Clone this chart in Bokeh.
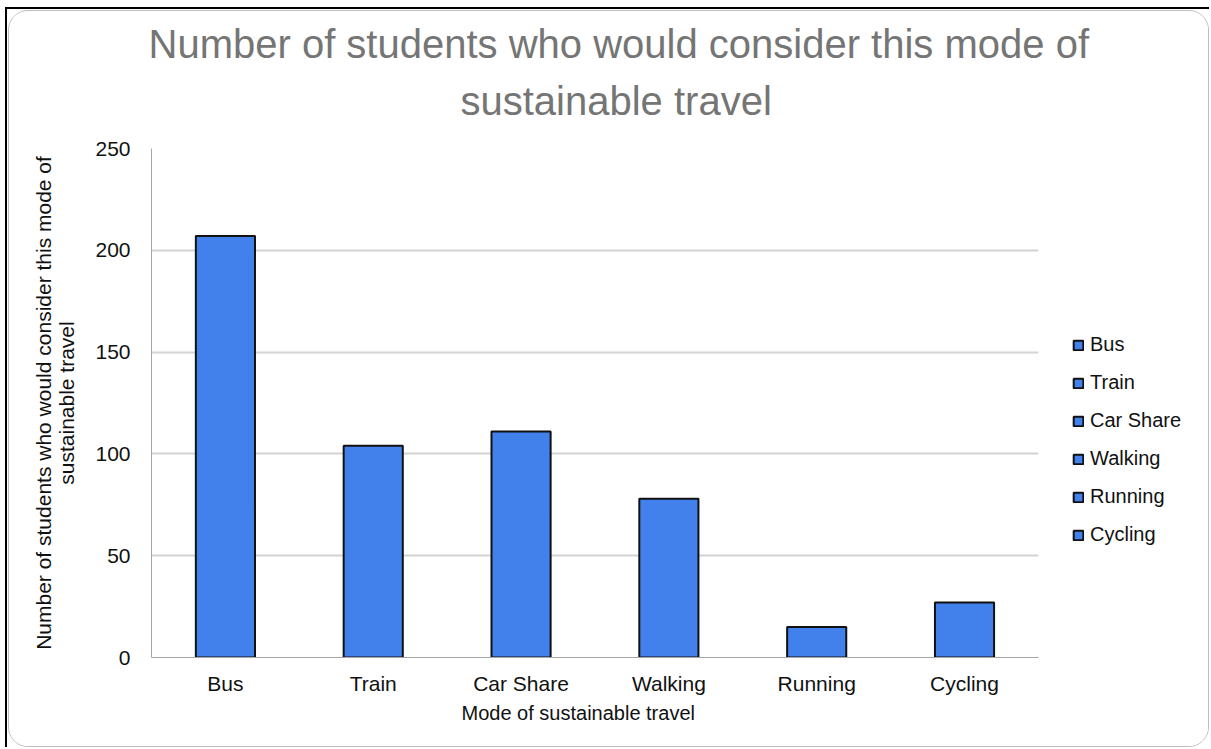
from bokeh.plotting import figure
from bokeh.models import ColumnDataSource, Range1d, Title, FixedTicker, BoxAnnotation
from bokeh.layouts import column
from bokeh.embed import file_html
from bokeh.resources import INLINE

# Survey results: students who would consider each travel mode
modes = ["Bus", "Train", "Car Share", "Walking", "Running", "Cycling"]
counts = [207, 104, 111, 78, 15, 27]
y_ticks = [0, 50, 100, 150, 200, 250]
title_lines = ["Number of students who would consider this mode of", "sustainable travel"]
x_title = "Mode of sustainable travel"
y_title = "Number of students who would consider this mode of\nsustainable travel"

FONT = "Liberation Sans"
BAR_COLOR = "#4281EC"
TITLE_COLOR = "#757575"
TEXT_COLOR = "#111111"

# one unit-wide slot per category, bars centred in their slot
slots = [i + 0.5 for i in range(len(modes))]
n_slots = len(modes)
source = ColumnDataSource(data=dict(x=slots, modes=modes, counts=counts))

p = figure(
    x_range=Range1d(0, 7.137),
    y_range=Range1d(0, 250),
    width=1201,
    height=737,
    output_backend="svg",
    toolbar_location=None,
    title=None,
    min_border_left=142,
    min_border_right=4,
    min_border_top=137,
    min_border_bottom=91,
    styles={"border": "1px solid #BDBDBD", "border-radius": "20px", "overflow": "hidden"},
)

# blank the area right of the last category (legend sits there)
p.add_layout(BoxAnnotation(left=n_slots, fill_color="white", fill_alpha=1,
                           line_color=None, level="underlay"))

p.vbar(
    x="x", top="counts", width=0.4, source=source,
    fill_color=BAR_COLOR, line_color=TEXT_COLOR, line_width=2,
    legend_field="modes",
)

# Two-line title, each line centred over the chart
for line, offset, standoff in ((title_lines[1], 309, 52), (title_lines[0], -3, -30)):
    p.add_layout(Title(
        text=line, align="left", offset=offset, standoff=standoff,
        text_font=FONT, text_font_size="40px", text_font_style="normal",
        text_color=TITLE_COLOR,
    ), "above")

# x-axis title, set under the category labels
p.add_layout(Title(
    text=x_title, align="left", offset=310, standoff=4,
    text_font=FONT, text_font_size="20px", text_font_style="normal",
    text_color=TEXT_COLOR,
), "below")

# Axes
p.xaxis.ticker = FixedTicker(ticks=slots)
p.xaxis.major_label_overrides = {x: m for x, m in zip(slots, modes)}
p.xaxis.bounds = (0, n_slots)
p.yaxis.ticker = y_ticks
p.yaxis.axis_label = y_title
for ax in (p.xaxis, p.yaxis):
    ax.axis_label_text_font = FONT
    ax.axis_label_text_font_style = "normal"
    ax.axis_label_text_color = TEXT_COLOR
    ax.major_label_text_font = FONT
    ax.major_label_text_color = TEXT_COLOR
    ax.major_tick_line_color = None
    ax.minor_tick_line_color = None
    ax.axis_line_color = "#A6A6A6"
    ax.axis_line_width = 1
p.xaxis.major_label_text_font_size = "21px"
p.yaxis.major_label_text_font_size = "21px"
p.yaxis.axis_label_text_font_size = "21px"
p.yaxis.axis_label_text_line_height = 1.0
p.yaxis.axis_label_standoff = 14
p.yaxis.major_label_standoff = 15
p.xaxis.major_label_standoff = 8

p.xgrid.grid_line_color = None
p.ygrid.grid_line_color = "#D4D4D4"
p.ygrid.grid_line_width = 2
p.outline_line_color = None

# Legend to the right of the bars
legend = p.legend[0]
legend.location = (921, 111)
legend.border_line_color = None
legend.background_fill_alpha = 0
legend.label_text_font = FONT
legend.label_text_font_size = "20px"
legend.label_text_color = TEXT_COLOR
legend.glyph_width = 12
legend.glyph_height = 12
legend.label_height = 20
legend.label_standoff = 6
legend.spacing = 15
legend.padding = 0
legend.margin = 0

# Page with a dark rule along the top and left edges
page = column(
    p,
    styles={
        "margin-left": "5px", "margin-top": "7px",
        "border-top": "2px solid #000000", "border-left": "2px solid #000000",
        "padding-left": "1px", "padding-top": "1px",
    },
)

open("out.html", "w").write(file_html(page, INLINE))
